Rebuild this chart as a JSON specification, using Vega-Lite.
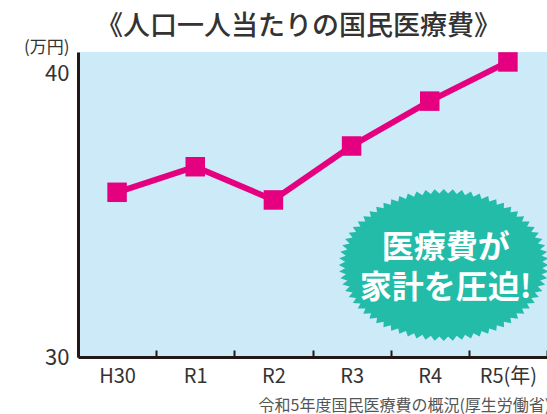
{
  "$schema": "https://vega.github.io/schema/vega-lite/v6.json",
  "autosize": {"type": "none"},
  "padding": {"left": 78, "top": 52, "right": 0, "bottom": 57},
  "width": 469,
  "height": 305,
  "background": "#ffffff",
  "config": {
    "font": "Noto Sans CJK JP",
    "view": {"fill": "#cdeaf9", "stroke": null},
    "axis": {"domainColor": "#231815", "domainWidth": 3, "grid": false, "labelColor": "#333333", "labelFont": "Noto Sans CJK JP"}
  },
  "title": {
    "text": "《人口一人当たりの国民医療費》",
    "fontSize": 27,
    "fontWeight": 500,
    "color": "#333333",
    "anchor": "middle",
    "dx": -14,
    "dy": 4,
    "offset": 1
  },
  "datasets": {
    "cost": [
      {"year": "H30", "value": 35.8},
      {"year": "R1", "value": 36.7},
      {"year": "R2", "value": 35.53},
      {"year": "R3", "value": 37.43},
      {"year": "R4", "value": 39.01},
      {"year": "R5", "value": 40.39}
    ],
    "badge": [{"year": "R4", "value": 33.24}],
    "badgeText": [
      {"year": "R4", "value": 33.84, "label": "医療費が"},
      {"year": "R4", "value": 32.44, "label": "家計を圧迫!"}
    ]
  },
  "encoding": {
    "x": {
      "field": "year",
      "type": "nominal",
      "sort": ["H30", "R1", "R2", "R3", "R4", "R5"],
      "scale": {"domain": ["H30", "R1", "R2", "R3", "R4", "R5"], "paddingInner": 0, "paddingOuter": 0},
      "axis": {
        "title": "令和5年度国民医療費の概況(厚生労働省)",
        "titleX": 180,
        "titleY": 48,
        "titleAlign": "left",
        "titleBaseline": "middle",
        "titleFontSize": 16,
        "titleFontWeight": "normal",
        "titleColor": "#555555",
        "labelAngle": 0,
        "labelFontSize": 20,
        "labelPadding": 16,
        "labelDx": -10,
        "labelExpr": "datum.value == 'R5' ? 'R5(年)' : datum.value",
        "tickBand": "extent",
        "tickSize": -7,
        "tickWidth": 2,
        "tickColor": "#231815"
      }
    },
    "y": {
      "field": "value",
      "type": "quantitative",
      "scale": {"domain": [30, 40.74], "nice": false, "zero": false},
      "axis": {
        "values": [30, 40],
        "ticks": false,
        "labelFontSize": 22,
        "labelPadding": 9,
        "title": "(万円)",
        "titleAngle": 0,
        "titleX": -9,
        "titleY": -5,
        "titleAlign": "right",
        "titleBaseline": "middle",
        "titleFontSize": 17,
        "titleFontWeight": "normal",
        "titleColor": "#333333"
      }
    }
  },
  "layer": [
    {
      "data": {"name": "badge"},
      "mark": {
        "type": "point",
        "filled": true,
        "color": "#22bca9",
        "opacity": 1,
        "size": 44100,
        "xOffset": 14,
        "shape": "M1 0L0.939 0.03L0.996 0.063L0.932 0.089L0.985 0.126L0.918 0.147L0.966 0.187L0.896 0.205L0.94 0.248L0.868 0.261L0.906 0.306L0.834 0.314L0.866 0.362L0.793 0.366L0.819 0.415L0.746 0.414L0.766 0.465L0.693 0.46L0.707 0.512L0.635 0.502L0.643 0.555L0.572 0.54L0.574 0.593L0.505 0.574L0.5 0.627L0.434 0.604L0.423 0.656L0.36 0.629L0.342 0.68L0.283 0.649L0.259 0.699L0.203 0.665L0.174 0.713L0.123 0.675L0.087 0.721L0.041 0.68L0 0.724L-0.041 0.68L-0.087 0.721L-0.123 0.675L-0.174 0.713L-0.203 0.665L-0.259 0.699L-0.283 0.649L-0.342 0.68L-0.36 0.629L-0.423 0.656L-0.434 0.604L-0.5 0.627L-0.505 0.574L-0.574 0.593L-0.572 0.54L-0.643 0.555L-0.635 0.502L-0.707 0.512L-0.693 0.46L-0.766 0.465L-0.746 0.414L-0.819 0.415L-0.793 0.366L-0.866 0.362L-0.834 0.314L-0.906 0.306L-0.868 0.261L-0.94 0.248L-0.896 0.205L-0.966 0.187L-0.918 0.147L-0.985 0.126L-0.932 0.089L-0.996 0.063L-0.939 0.03L-1 0L-0.939 -0.03L-0.996 -0.063L-0.932 -0.089L-0.985 -0.126L-0.918 -0.147L-0.966 -0.187L-0.896 -0.205L-0.94 -0.248L-0.868 -0.261L-0.906 -0.306L-0.834 -0.314L-0.866 -0.362L-0.793 -0.366L-0.819 -0.415L-0.746 -0.414L-0.766 -0.465L-0.693 -0.46L-0.707 -0.512L-0.635 -0.502L-0.643 -0.555L-0.572 -0.54L-0.574 -0.593L-0.505 -0.574L-0.5 -0.627L-0.434 -0.604L-0.423 -0.656L-0.36 -0.629L-0.342 -0.68L-0.283 -0.649L-0.259 -0.699L-0.203 -0.665L-0.174 -0.713L-0.123 -0.675L-0.087 -0.721L-0.041 -0.68L0 -0.724L0.041 -0.68L0.087 -0.721L0.123 -0.675L0.174 -0.713L0.203 -0.665L0.259 -0.699L0.283 -0.649L0.342 -0.68L0.36 -0.629L0.423 -0.656L0.434 -0.604L0.5 -0.627L0.505 -0.574L0.574 -0.593L0.572 -0.54L0.643 -0.555L0.635 -0.502L0.707 -0.512L0.693 -0.46L0.766 -0.465L0.746 -0.414L0.819 -0.415L0.793 -0.366L0.866 -0.362L0.834 -0.314L0.906 -0.306L0.868 -0.261L0.94 -0.248L0.896 -0.205L0.966 -0.187L0.918 -0.147L0.985 -0.126L0.932 -0.089L0.996 -0.063L0.939 -0.03Z"
      }
    },
    {
      "data": {"name": "badgeText"},
      "mark": {"type": "text", "color": "#ffffff", "fontSize": 32, "fontWeight": "bold", "dx": 16, "baseline": "middle", "align": "center"},
      "encoding": {"text": {"field": "label"}}
    },
    {
      "data": {"name": "cost"},
      "mark": {"type": "line", "color": "#e4007f", "strokeWidth": 6}
    },
    {
      "data": {"name": "cost"},
      "mark": {"type": "point", "shape": "square", "filled": true, "opacity": 1, "color": "#e4007f", "size": 380}
    }
  ]
}
